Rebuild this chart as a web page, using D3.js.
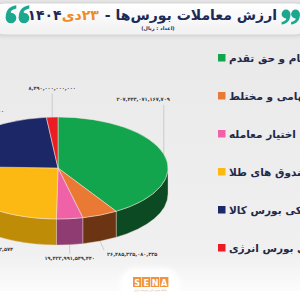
<!DOCTYPE html>
<html>
<head>
<meta charset="utf-8">
<script src="https://cdn.jsdelivr.net/npm/d3@7"></script>
<style>
body{margin:0;background:#fff}
svg{display:block}
</style>
</head>
<body>
<div id="chart"></div>
<script>
// slices, clockwise from 12 o'clock
const categories = ['سهام و حق تقدم', 'صندوق سهامی و مختلط', 'اختیار معامله', 'صندوق های طلا', 'فیزیکی بورس کالا', 'فیزیکی بورس انرژی']
const values = [207443071167709, 26485325080335, 19422991549440, 127513220832574, 115005000000000, 8490000000000]
const topColors = ['#12a54d', '#ea7a33', '#ef62a8', '#fcb913', '#1b2767', '#ec1c24']
const sideColors = ['#0b4a22', '#6b3412', '#8e3c72', '#bf8c08', '#0d1540', '#8a1014']

const titleMain = 'ارزش معاملات بورس‌ها -'
const titleDay = '۲۳دی'
const titleYear = '۱۴۰۴'
const subtitle = '(اعداد : ریال)'

const faDigits = s => s.replace(/\d/g, d => '۰۱۲۳۴۵۶۷۸۹'[d])
const fmt = v => faDigits(d3.format(',.0f')(v))

const width = 300, height = 300
const fa = 'DejaVu Sans'

const svg = d3.select('#chart').append('svg')
    .attr('width', width)
    .attr('height', height)

const defs = svg.append('defs')
const bg = defs.append('linearGradient').attr('id', 'bg').attr('x1', 0).attr('y1', 0).attr('x2', 0).attr('y2', 1)
bg.append('stop').attr('offset', '0%').attr('stop-color', '#e8e8e8')
bg.append('stop').attr('offset', '85%').attr('stop-color', '#f0f0f0')
bg.append('stop').attr('offset', '100%').attr('stop-color', '#ffffff')
const bar = defs.append('linearGradient').attr('id', 'bar').attr('x1', 0).attr('y1', 0).attr('x2', 0).attr('y2', 1)
bar.append('stop').attr('offset', '0%').attr('stop-color', '#ffffff')
bar.append('stop').attr('offset', '100%').attr('stop-color', '#f1f1f1')
const blur = defs.append('filter').attr('id', 'soft').attr('x', '-20%').attr('y', '-20%').attr('width', '140%').attr('height', '140%')
blur.append('feGaussianBlur').attr('stdDeviation', 2)

svg.append('rect').attr('width', width).attr('height', height).attr('fill', 'url(#bg)')

// title bar
svg.append('rect').attr('x', -8).attr('y', 3).attr('width', width + 16).attr('height', 33).attr('rx', 12)
    .attr('fill', '#cfcfcf').attr('filter', 'url(#soft)')
svg.append('rect').attr('x', -8).attr('y', 3).attr('width', width + 16).attr('height', 32).attr('rx', 12)
    .attr('fill', 'url(#bar)').attr('stroke', '#d6d6d6').attr('stroke-width', 1)

const t1 = svg.append('text').attr('x', 277).attr('y', 20)
    .attr('direction', 'rtl').attr('text-anchor', 'start')
    .attr('font-family', fa).attr('font-weight', 'bold').attr('font-size', 14)
    .attr('fill', '#1d2a55').text(titleMain)
let xPos = 277 - t1.node().getComputedTextLength() - 6
const t2 = svg.append('text').attr('x', xPos).attr('y', 20)
    .attr('direction', 'rtl').attr('text-anchor', 'start')
    .attr('font-family', fa).attr('font-weight', 'bold').attr('font-size', 14)
    .attr('fill', '#f08a24').text(titleDay)
xPos -= t2.node().getComputedTextLength()
svg.append('text').attr('x', xPos).attr('y', 20)
    .attr('direction', 'rtl').attr('text-anchor', 'start')
    .attr('font-family', fa).attr('font-weight', 'bold').attr('font-size', 14)
    .attr('fill', '#1d2a55').text(titleYear)
svg.append('text').attr('x', 158).attr('y', 30)
    .attr('direction', 'rtl').attr('text-anchor', 'middle')
    .attr('font-family', fa).attr('font-weight', 'bold').attr('font-size', 5)
    .attr('fill', '#1d2a55').text(subtitle)

// quote marks drawn as "6" shapes (rotated for "9")
const quote = (a, b, r, rot) => {
    const g = svg.append('g').attr('transform', `translate(${a},${b}) rotate(${rot}) scale(${r / 5})`)
    g.append('circle').attr('r', 5).attr('fill', '#1ba88f')
    g.append('path')
        .attr('d', 'M-5,0 C-5,-8 -1,-11 5,-12 L5,-9 C1,-8 -1,-6 0,-5 Z')
        .attr('fill', '#1ba88f')
}
quote(11, 18, 5.3, 0)
quote(24, 18, 5.3, 0)
quote(286, 14, 4.4, 180)
quote(295.5, 14, 4.4, 180)

// 3d pie
const cx = 58, cy = 168, rx = 110, ry = 51, depth = 26
const arcs = d3.pie().sort(null).value(d => d)(values)
const pt = (a, dy = 0) => [cx + rx * Math.sin(a), cy - ry * Math.cos(a) + dy]

const sideG = svg.append('g')
const topG = svg.append('g')

arcs.forEach((d, i) => {
    const s = Math.max(d.startAngle, Math.PI / 2)
    const e = Math.min(d.endAngle, Math.PI * 1.5)
    if (s < e) {
        const p0 = pt(s), p1 = pt(e), q1 = pt(e, depth), q0 = pt(s, depth)
        sideG.append('path')
            .attr('d', `M${p0}A${rx},${ry} 0 0 1 ${p1}L${q1}A${rx},${ry} 0 0 0 ${q0}Z`)
            .attr('fill', sideColors[i])
            .attr('stroke', '#e9d2c4').attr('stroke-width', 0.4)
    }
    const a0 = pt(d.startAngle), a1 = pt(d.endAngle)
    const large = d.endAngle - d.startAngle > Math.PI ? 1 : 0
    topG.append('path')
        .attr('d', `M${cx},${cy}L${a0}A${rx},${ry} 0 ${large} 1 ${a1}Z`)
        .attr('fill', topColors[i])
        .attr('stroke', '#f7e6dc').attr('stroke-width', 0.5)
})

// value labels with leader lines
const labelG = svg.append('g')
arcs.forEach((d, i) => {
    const m = (d.startAngle + d.endAngle) / 2
    const sn = Math.sin(m), front = Math.cos(m) < 0
    const p = pt(m, front ? depth : 0)
    let x2, y2, anchor, tx, ty
    if (!front) {
        if (sn < -0.3) {
            x2 = p[0]; y2 = p[1] - 16; anchor = 'middle'; tx = x2
        } else {
            x2 = p[0]; y2 = p[1] - (22 + 28 * Math.abs(sn))
            anchor = Math.abs(sn) < 0.3 ? 'middle' : 'end'
            tx = anchor === 'end' ? x2 + 6 : x2
        }
        ty = y2 - 4
    } else {
        y2 = p[1] + 9
        if (sn < -0.2) { x2 = p[0] + 8; anchor = 'middle'; y2 = p[1] + 16 }
        else if (sn > 0.2) { x2 = p[0] + 4; anchor = 'start' }
        else { x2 = p[0]; anchor = 'middle' }
        tx = anchor === 'start' ? x2 + 3 : x2
        ty = y2 + 6
    }
    labelG.append('line')
        .attr('x1', p[0]).attr('y1', p[1]).attr('x2', x2).attr('y2', y2)
        .attr('stroke', '#b5b5b5').attr('stroke-width', 0.6)
    labelG.append('text').attr('x', tx).attr('y', ty)
        .attr('text-anchor', anchor)
        .attr('font-family', fa).attr('font-size', 5).attr('font-weight', 'bold')
        .attr('fill', '#3a3a3a').text(fmt(values[i]))
})

// legend
const legend = svg.append('g').attr('id', 'legend')
categories.forEach((c, i) => {
    const y = 58 + i * 38
    legend.append('rect').attr('x', 218).attr('y', y - 4).attr('width', 7.5).attr('height', 7.5)
        .attr('fill', topColors[i])
    legend.append('text').attr('x', 229).attr('y', y + 4)
        .attr('direction', 'rtl').attr('text-anchor', 'end')
        .attr('font-family', fa).attr('font-weight', 'bold').attr('font-size', 10.5)
        .attr('fill', '#1f2a4a').text(c)
})

// logo tab
svg.append('rect').attr('x', 120).attr('y', 268).attr('width', 60).attr('height', 50).attr('rx', 16)
    .attr('fill', '#ffffff').attr('filter', 'url(#soft)')
svg.append('rect').attr('x', 0).attr('y', 291).attr('width', width).attr('height', 9).attr('fill', '#ffffff')
const logo = ['S', 'E', 'N', 'A']
logo.forEach((l, i) => {
    svg.append('rect').attr('x', 133 + i * 9).attr('y', 277).attr('width', 8.4).attr('height', 10)
        .attr('fill', '#f0953e')
    svg.append('text').attr('x', 137.2 + i * 9).attr('y', 285.5).attr('text-anchor', 'middle')
        .attr('font-family', 'DejaVu Sans').attr('font-weight', 'bold').attr('font-size', 8)
        .attr('fill', '#ffffff').text(l)
})
svg.append('text').attr('x', 150.5).attr('y', 291).attr('text-anchor', 'middle')
    .attr('direction', 'rtl')
    .attr('font-family', fa).attr('font-size', 2.6).attr('fill', '#e0a070')
    .text('پایگاه خبری بازار سرمایه ایران')
</script>
</body>
</html>
